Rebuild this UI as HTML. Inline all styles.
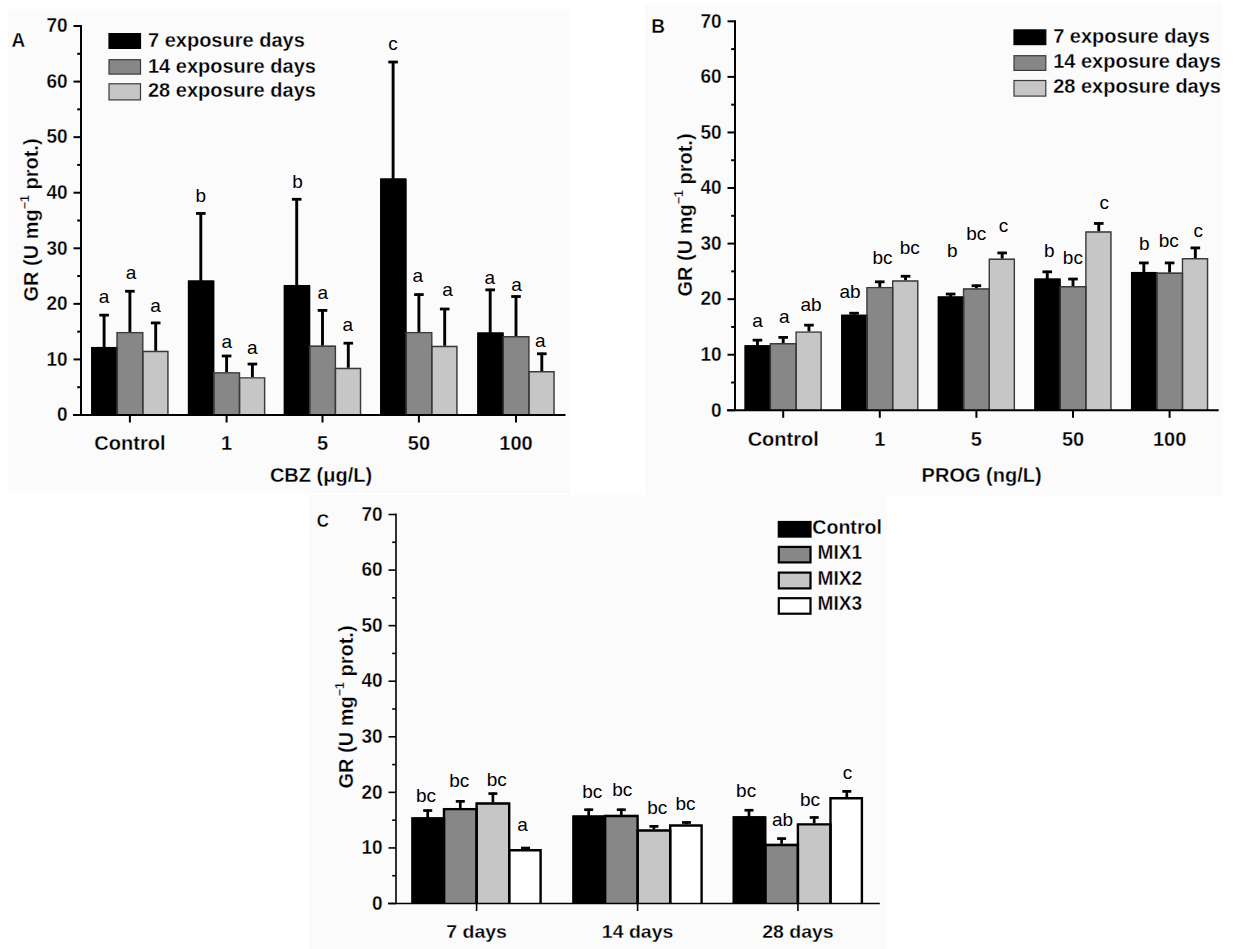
<!DOCTYPE html>
<html><head><meta charset="utf-8"><style>
html,body{margin:0;padding:0;background:#fff;}
body{width:1236px;height:949px;overflow:hidden;font-family:"Liberation Sans", sans-serif;}
svg{display:block;}
</style></head><body>
<svg width="1236" height="949" viewBox="0 0 1236 949" font-family='"Liberation Sans", sans-serif'>
<rect width="1236" height="949" fill="#fff"/>
<rect x="8" y="9" width="562" height="484" fill="#fbfbfc"/>
<rect x="645" y="3" width="577" height="493" fill="#fbfbfc"/>
<rect x="309" y="495" width="578" height="454" fill="#fbfbfc"/>
<line x1="104.10" y1="347.93" x2="104.10" y2="314.14" stroke="#000" stroke-width="2.9"/>
<line x1="99.30" y1="315.14" x2="108.90" y2="315.14" stroke="#000" stroke-width="2.8"/>
<line x1="129.90" y1="332.92" x2="129.90" y2="290.25" stroke="#000" stroke-width="2.9"/>
<line x1="125.10" y1="291.25" x2="134.70" y2="291.25" stroke="#000" stroke-width="2.8"/>
<line x1="155.70" y1="351.82" x2="155.70" y2="321.92" stroke="#000" stroke-width="2.9"/>
<line x1="150.90" y1="322.92" x2="160.50" y2="322.92" stroke="#000" stroke-width="2.8"/>
<line x1="200.80" y1="281.52" x2="200.80" y2="212.45" stroke="#000" stroke-width="2.9"/>
<line x1="196.00" y1="213.45" x2="205.60" y2="213.45" stroke="#000" stroke-width="2.8"/>
<line x1="226.60" y1="373.21" x2="226.60" y2="354.98" stroke="#000" stroke-width="2.9"/>
<line x1="221.80" y1="355.98" x2="231.40" y2="355.98" stroke="#000" stroke-width="2.8"/>
<line x1="252.40" y1="378.21" x2="252.40" y2="363.04" stroke="#000" stroke-width="2.9"/>
<line x1="247.60" y1="364.04" x2="257.20" y2="364.04" stroke="#000" stroke-width="2.8"/>
<line x1="296.70" y1="285.97" x2="296.70" y2="198.28" stroke="#000" stroke-width="2.9"/>
<line x1="291.90" y1="199.28" x2="301.50" y2="199.28" stroke="#000" stroke-width="2.8"/>
<line x1="322.50" y1="346.54" x2="322.50" y2="309.42" stroke="#000" stroke-width="2.9"/>
<line x1="317.70" y1="310.42" x2="327.30" y2="310.42" stroke="#000" stroke-width="2.8"/>
<line x1="348.30" y1="368.77" x2="348.30" y2="342.20" stroke="#000" stroke-width="2.9"/>
<line x1="343.50" y1="343.20" x2="353.10" y2="343.20" stroke="#000" stroke-width="2.8"/>
<line x1="393.10" y1="179.49" x2="393.10" y2="61.02" stroke="#000" stroke-width="2.9"/>
<line x1="388.30" y1="62.02" x2="397.90" y2="62.02" stroke="#000" stroke-width="2.8"/>
<line x1="418.90" y1="332.92" x2="418.90" y2="293.58" stroke="#000" stroke-width="2.9"/>
<line x1="414.10" y1="294.58" x2="423.70" y2="294.58" stroke="#000" stroke-width="2.8"/>
<line x1="444.70" y1="346.82" x2="444.70" y2="308.03" stroke="#000" stroke-width="2.9"/>
<line x1="439.90" y1="309.03" x2="449.50" y2="309.03" stroke="#000" stroke-width="2.8"/>
<line x1="490.20" y1="333.48" x2="490.20" y2="288.86" stroke="#000" stroke-width="2.9"/>
<line x1="485.40" y1="289.86" x2="495.00" y2="289.86" stroke="#000" stroke-width="2.8"/>
<line x1="516.00" y1="337.09" x2="516.00" y2="295.52" stroke="#000" stroke-width="2.9"/>
<line x1="511.20" y1="296.52" x2="520.80" y2="296.52" stroke="#000" stroke-width="2.8"/>
<line x1="541.80" y1="372.10" x2="541.80" y2="352.76" stroke="#000" stroke-width="2.9"/>
<line x1="537.00" y1="353.76" x2="546.60" y2="353.76" stroke="#000" stroke-width="2.8"/>
<rect x="91.20" y="346.93" width="25.80" height="68.07" fill="#000000"/>
<rect x="117.00" y="331.92" width="25.80" height="83.08" fill="#878787"/>
<rect x="142.80" y="350.82" width="25.80" height="64.18" fill="#c6c6c6"/>
<rect x="187.90" y="280.52" width="25.80" height="134.48" fill="#000000"/>
<rect x="213.70" y="372.21" width="25.80" height="42.79" fill="#878787"/>
<rect x="239.50" y="377.21" width="25.80" height="37.79" fill="#c6c6c6"/>
<rect x="283.80" y="284.97" width="25.80" height="130.03" fill="#000000"/>
<rect x="309.60" y="345.54" width="25.80" height="69.46" fill="#878787"/>
<rect x="335.40" y="367.77" width="25.80" height="47.23" fill="#c6c6c6"/>
<rect x="380.20" y="178.49" width="25.80" height="236.51" fill="#000000"/>
<rect x="406.00" y="331.92" width="25.80" height="83.08" fill="#878787"/>
<rect x="431.80" y="345.82" width="25.80" height="69.18" fill="#c6c6c6"/>
<rect x="477.30" y="332.48" width="25.80" height="82.52" fill="#000000"/>
<rect x="503.10" y="336.09" width="25.80" height="78.91" fill="#878787"/>
<rect x="528.90" y="371.10" width="25.80" height="43.90" fill="#c6c6c6"/>
<path d="M91.90,415.00V347.63H117.00V415.00" fill="none" stroke="#000" stroke-width="1.4"/>
<path d="M117.00,415.00V332.62H142.80V415.00" fill="none" stroke="#3a3a3a" stroke-width="1.4"/>
<path d="M142.80,415.00V351.52H167.90V415.00" fill="none" stroke="#3a3a3a" stroke-width="1.4"/>
<path d="M188.60,415.00V281.22H213.70V415.00" fill="none" stroke="#000" stroke-width="1.4"/>
<path d="M213.70,415.00V372.91H239.50V415.00" fill="none" stroke="#3a3a3a" stroke-width="1.4"/>
<path d="M239.50,415.00V377.91H264.60V415.00" fill="none" stroke="#3a3a3a" stroke-width="1.4"/>
<path d="M284.50,415.00V285.67H309.60V415.00" fill="none" stroke="#000" stroke-width="1.4"/>
<path d="M309.60,415.00V346.24H335.40V415.00" fill="none" stroke="#3a3a3a" stroke-width="1.4"/>
<path d="M335.40,415.00V368.47H360.50V415.00" fill="none" stroke="#3a3a3a" stroke-width="1.4"/>
<path d="M380.90,415.00V179.19H406.00V415.00" fill="none" stroke="#000" stroke-width="1.4"/>
<path d="M406.00,415.00V332.62H431.80V415.00" fill="none" stroke="#3a3a3a" stroke-width="1.4"/>
<path d="M431.80,415.00V346.52H456.90V415.00" fill="none" stroke="#3a3a3a" stroke-width="1.4"/>
<path d="M478.00,415.00V333.18H503.10V415.00" fill="none" stroke="#000" stroke-width="1.4"/>
<path d="M503.10,415.00V336.79H528.90V415.00" fill="none" stroke="#3a3a3a" stroke-width="1.4"/>
<path d="M528.90,415.00V371.80H554.00V415.00" fill="none" stroke="#3a3a3a" stroke-width="1.4"/>
<text transform="translate(104.0,302.5) scale(1,1.0)" font-size="19" font-weight="normal" text-anchor="middle" >a</text>
<text transform="translate(131.0,278.5) scale(1,1.0)" font-size="19" font-weight="normal" text-anchor="middle" >a</text>
<text transform="translate(155.5,311.8) scale(1,1.0)" font-size="19" font-weight="normal" text-anchor="middle" >a</text>
<text transform="translate(200.8,202.2) scale(1,1.0)" font-size="19" font-weight="normal" text-anchor="middle" >b</text>
<text transform="translate(226.7,348.3) scale(1,1.0)" font-size="19" font-weight="normal" text-anchor="middle" >a</text>
<text transform="translate(252.3,354.3) scale(1,1.0)" font-size="19" font-weight="normal" text-anchor="middle" >a</text>
<text transform="translate(297.6,187.8) scale(1,1.0)" font-size="19" font-weight="normal" text-anchor="middle" >b</text>
<text transform="translate(322.7,299.3) scale(1,1.0)" font-size="19" font-weight="normal" text-anchor="middle" >a</text>
<text transform="translate(347.7,330.7) scale(1,1.0)" font-size="19" font-weight="normal" text-anchor="middle" >a</text>
<text transform="translate(393.0,49.8) scale(1,1.0)" font-size="19" font-weight="normal" text-anchor="middle" >c</text>
<text transform="translate(417.9,281.6) scale(1,1.0)" font-size="19" font-weight="normal" text-anchor="middle" >a</text>
<text transform="translate(447.6,296.4) scale(1,1.0)" font-size="19" font-weight="normal" text-anchor="middle" >a</text>
<text transform="translate(489.7,283.8) scale(1,1.0)" font-size="19" font-weight="normal" text-anchor="middle" >a</text>
<text transform="translate(516.5,291.0) scale(1,1.0)" font-size="19" font-weight="normal" text-anchor="middle" >a</text>
<text transform="translate(540.2,347.0) scale(1,1.0)" font-size="19" font-weight="normal" text-anchor="middle" >a</text>
<line x1="81.00" y1="25.01" x2="81.00" y2="415.00" stroke="#000" stroke-width="2.0"/>
<line x1="73.00" y1="415.00" x2="565.50" y2="415.00" stroke="#000" stroke-width="2.0"/>
<line x1="73.50" y1="415.00" x2="81.00" y2="415.00" stroke="#000" stroke-width="2.0"/>
<text transform="translate(67.5,421.2) scale(1,1.07)" font-size="19" font-weight="bold" text-anchor="end" stroke="#fbfbfc" stroke-width="0.3" >0</text>
<line x1="77.20" y1="387.21" x2="81.00" y2="387.21" stroke="#000" stroke-width="2.0"/>
<line x1="73.50" y1="359.43" x2="81.00" y2="359.43" stroke="#000" stroke-width="2.0"/>
<text transform="translate(67.5,365.6) scale(1,1.07)" font-size="19" font-weight="bold" text-anchor="end" stroke="#fbfbfc" stroke-width="0.3" >10</text>
<line x1="77.20" y1="331.64" x2="81.00" y2="331.64" stroke="#000" stroke-width="2.0"/>
<line x1="73.50" y1="303.86" x2="81.00" y2="303.86" stroke="#000" stroke-width="2.0"/>
<text transform="translate(67.5,310.1) scale(1,1.07)" font-size="19" font-weight="bold" text-anchor="end" stroke="#fbfbfc" stroke-width="0.3" >20</text>
<line x1="77.20" y1="276.07" x2="81.00" y2="276.07" stroke="#000" stroke-width="2.0"/>
<line x1="73.50" y1="248.29" x2="81.00" y2="248.29" stroke="#000" stroke-width="2.0"/>
<text transform="translate(67.5,254.5) scale(1,1.07)" font-size="19" font-weight="bold" text-anchor="end" stroke="#fbfbfc" stroke-width="0.3" >30</text>
<line x1="77.20" y1="220.50" x2="81.00" y2="220.50" stroke="#000" stroke-width="2.0"/>
<line x1="73.50" y1="192.72" x2="81.00" y2="192.72" stroke="#000" stroke-width="2.0"/>
<text transform="translate(67.5,198.9) scale(1,1.07)" font-size="19" font-weight="bold" text-anchor="end" stroke="#fbfbfc" stroke-width="0.3" >40</text>
<line x1="77.20" y1="164.93" x2="81.00" y2="164.93" stroke="#000" stroke-width="2.0"/>
<line x1="73.50" y1="137.15" x2="81.00" y2="137.15" stroke="#000" stroke-width="2.0"/>
<text transform="translate(67.5,143.3) scale(1,1.07)" font-size="19" font-weight="bold" text-anchor="end" stroke="#fbfbfc" stroke-width="0.3" >50</text>
<line x1="77.20" y1="109.36" x2="81.00" y2="109.36" stroke="#000" stroke-width="2.0"/>
<line x1="73.50" y1="81.58" x2="81.00" y2="81.58" stroke="#000" stroke-width="2.0"/>
<text transform="translate(67.5,87.8) scale(1,1.07)" font-size="19" font-weight="bold" text-anchor="end" stroke="#fbfbfc" stroke-width="0.3" >60</text>
<line x1="77.20" y1="53.79" x2="81.00" y2="53.79" stroke="#000" stroke-width="2.0"/>
<line x1="73.50" y1="26.01" x2="81.00" y2="26.01" stroke="#000" stroke-width="2.0"/>
<text transform="translate(67.5,32.2) scale(1,1.07)" font-size="19" font-weight="bold" text-anchor="end" stroke="#fbfbfc" stroke-width="0.3" >70</text>
<line x1="129.90" y1="415.00" x2="129.90" y2="422.50" stroke="#000" stroke-width="2.0"/>
<line x1="226.60" y1="415.00" x2="226.60" y2="422.50" stroke="#000" stroke-width="2.0"/>
<line x1="322.50" y1="415.00" x2="322.50" y2="422.50" stroke="#000" stroke-width="2.0"/>
<line x1="418.90" y1="415.00" x2="418.90" y2="422.50" stroke="#000" stroke-width="2.0"/>
<line x1="516.00" y1="415.00" x2="516.00" y2="422.50" stroke="#000" stroke-width="2.0"/>
<text transform="translate(129.9,450.0) scale(1,1.0)" font-size="20" font-weight="bold" text-anchor="middle" stroke="#fbfbfc" stroke-width="0.3" >Control</text>
<text transform="translate(226.6,450.0) scale(1,1.0)" font-size="20" font-weight="bold" text-anchor="middle" stroke="#fbfbfc" stroke-width="0.3" >1</text>
<text transform="translate(322.5,450.0) scale(1,1.0)" font-size="20" font-weight="bold" text-anchor="middle" stroke="#fbfbfc" stroke-width="0.3" >5</text>
<text transform="translate(418.9,450.0) scale(1,1.0)" font-size="20" font-weight="bold" text-anchor="middle" stroke="#fbfbfc" stroke-width="0.3" >50</text>
<text transform="translate(516.0,450.0) scale(1,1.0)" font-size="20" font-weight="bold" text-anchor="middle" stroke="#fbfbfc" stroke-width="0.3" >100</text>
<text transform="translate(321.0,482.0) scale(1,1.0)" font-size="20" font-weight="bold" text-anchor="middle" stroke="#fbfbfc" stroke-width="0.3" >CBZ (&#956;g/L)</text>
<text transform="translate(37.5,220.0) rotate(-90)" font-size="20" font-weight="bold" stroke="#fbfbfc" stroke-width="0.3" text-anchor="middle">GR (U mg<tspan dy="-8.5" font-size="12.5">&#8722;1</tspan><tspan dy="8.5"> prot.)</tspan></text>
<line x1="757.45" y1="346.28" x2="757.45" y2="339.17" stroke="#000" stroke-width="2.9"/>
<line x1="752.65" y1="340.17" x2="762.25" y2="340.17" stroke="#000" stroke-width="2.8"/>
<line x1="783.20" y1="344.06" x2="783.20" y2="336.39" stroke="#000" stroke-width="2.9"/>
<line x1="778.40" y1="337.39" x2="788.00" y2="337.39" stroke="#000" stroke-width="2.8"/>
<line x1="808.95" y1="332.39" x2="808.95" y2="324.17" stroke="#000" stroke-width="2.9"/>
<line x1="804.15" y1="325.17" x2="813.75" y2="325.17" stroke="#000" stroke-width="2.8"/>
<line x1="854.05" y1="315.72" x2="854.05" y2="312.22" stroke="#000" stroke-width="2.9"/>
<line x1="849.25" y1="313.22" x2="858.85" y2="313.22" stroke="#000" stroke-width="2.8"/>
<line x1="879.80" y1="287.93" x2="879.80" y2="280.82" stroke="#000" stroke-width="2.9"/>
<line x1="875.00" y1="281.82" x2="884.60" y2="281.82" stroke="#000" stroke-width="2.8"/>
<line x1="905.55" y1="281.27" x2="905.55" y2="275.26" stroke="#000" stroke-width="2.9"/>
<line x1="900.75" y1="276.26" x2="910.35" y2="276.26" stroke="#000" stroke-width="2.8"/>
<line x1="950.65" y1="297.38" x2="950.65" y2="293.05" stroke="#000" stroke-width="2.9"/>
<line x1="945.85" y1="294.05" x2="955.45" y2="294.05" stroke="#000" stroke-width="2.8"/>
<line x1="976.40" y1="289.32" x2="976.40" y2="284.71" stroke="#000" stroke-width="2.9"/>
<line x1="971.60" y1="285.71" x2="981.20" y2="285.71" stroke="#000" stroke-width="2.8"/>
<line x1="1002.15" y1="259.59" x2="1002.15" y2="251.93" stroke="#000" stroke-width="2.9"/>
<line x1="997.35" y1="252.93" x2="1006.95" y2="252.93" stroke="#000" stroke-width="2.8"/>
<line x1="1047.25" y1="279.60" x2="1047.25" y2="270.82" stroke="#000" stroke-width="2.9"/>
<line x1="1042.45" y1="271.82" x2="1052.05" y2="271.82" stroke="#000" stroke-width="2.8"/>
<line x1="1073.00" y1="287.10" x2="1073.00" y2="278.04" stroke="#000" stroke-width="2.9"/>
<line x1="1068.20" y1="279.04" x2="1077.80" y2="279.04" stroke="#000" stroke-width="2.8"/>
<line x1="1098.75" y1="232.36" x2="1098.75" y2="222.47" stroke="#000" stroke-width="2.9"/>
<line x1="1093.95" y1="223.47" x2="1103.55" y2="223.47" stroke="#000" stroke-width="2.8"/>
<line x1="1143.85" y1="272.93" x2="1143.85" y2="261.93" stroke="#000" stroke-width="2.9"/>
<line x1="1139.05" y1="262.93" x2="1148.65" y2="262.93" stroke="#000" stroke-width="2.8"/>
<line x1="1169.60" y1="273.49" x2="1169.60" y2="261.93" stroke="#000" stroke-width="2.9"/>
<line x1="1164.80" y1="262.93" x2="1174.40" y2="262.93" stroke="#000" stroke-width="2.8"/>
<line x1="1195.35" y1="259.04" x2="1195.35" y2="246.92" stroke="#000" stroke-width="2.9"/>
<line x1="1190.55" y1="247.92" x2="1200.15" y2="247.92" stroke="#000" stroke-width="2.8"/>
<rect x="744.58" y="345.28" width="25.75" height="65.02" fill="#000000"/>
<rect x="770.33" y="343.06" width="25.75" height="67.24" fill="#878787"/>
<rect x="796.08" y="331.39" width="25.75" height="78.91" fill="#c6c6c6"/>
<rect x="841.18" y="314.72" width="25.75" height="95.58" fill="#000000"/>
<rect x="866.93" y="286.93" width="25.75" height="123.37" fill="#878787"/>
<rect x="892.68" y="280.27" width="25.75" height="130.03" fill="#c6c6c6"/>
<rect x="937.78" y="296.38" width="25.75" height="113.92" fill="#000000"/>
<rect x="963.53" y="288.32" width="25.75" height="121.98" fill="#878787"/>
<rect x="989.28" y="258.59" width="25.75" height="151.71" fill="#c6c6c6"/>
<rect x="1034.38" y="278.60" width="25.75" height="131.70" fill="#000000"/>
<rect x="1060.12" y="286.10" width="25.75" height="124.20" fill="#878787"/>
<rect x="1085.88" y="231.36" width="25.75" height="178.94" fill="#c6c6c6"/>
<rect x="1130.97" y="271.93" width="25.75" height="138.37" fill="#000000"/>
<rect x="1156.72" y="272.49" width="25.75" height="137.81" fill="#878787"/>
<rect x="1182.47" y="258.04" width="25.75" height="152.26" fill="#c6c6c6"/>
<path d="M745.28,410.30V345.98H770.33V410.30" fill="none" stroke="#000" stroke-width="1.4"/>
<path d="M770.33,410.30V343.76H796.08V410.30" fill="none" stroke="#3a3a3a" stroke-width="1.4"/>
<path d="M796.08,410.30V332.09H821.12V410.30" fill="none" stroke="#3a3a3a" stroke-width="1.4"/>
<path d="M841.88,410.30V315.42H866.93V410.30" fill="none" stroke="#000" stroke-width="1.4"/>
<path d="M866.93,410.30V287.63H892.68V410.30" fill="none" stroke="#3a3a3a" stroke-width="1.4"/>
<path d="M892.68,410.30V280.97H917.73V410.30" fill="none" stroke="#3a3a3a" stroke-width="1.4"/>
<path d="M938.48,410.30V297.08H963.53V410.30" fill="none" stroke="#000" stroke-width="1.4"/>
<path d="M963.53,410.30V289.02H989.28V410.30" fill="none" stroke="#3a3a3a" stroke-width="1.4"/>
<path d="M989.28,410.30V259.29H1014.33V410.30" fill="none" stroke="#3a3a3a" stroke-width="1.4"/>
<path d="M1035.08,410.30V279.30H1060.12V410.30" fill="none" stroke="#000" stroke-width="1.4"/>
<path d="M1060.12,410.30V286.80H1085.88V410.30" fill="none" stroke="#3a3a3a" stroke-width="1.4"/>
<path d="M1085.88,410.30V232.06H1110.92V410.30" fill="none" stroke="#3a3a3a" stroke-width="1.4"/>
<path d="M1131.67,410.30V272.63H1156.72V410.30" fill="none" stroke="#000" stroke-width="1.4"/>
<path d="M1156.72,410.30V273.19H1182.47V410.30" fill="none" stroke="#3a3a3a" stroke-width="1.4"/>
<path d="M1182.47,410.30V258.74H1207.52V410.30" fill="none" stroke="#3a3a3a" stroke-width="1.4"/>
<text transform="translate(757.5,327.2) scale(1,1.0)" font-size="19" font-weight="normal" text-anchor="middle" >a</text>
<text transform="translate(784.3,322.9) scale(1,1.0)" font-size="19" font-weight="normal" text-anchor="middle" >a</text>
<text transform="translate(811.1,310.5) scale(1,1.0)" font-size="19" font-weight="normal" text-anchor="middle" >ab</text>
<text transform="translate(850.1,298.3) scale(1,1.0)" font-size="19" font-weight="normal" text-anchor="middle" >ab</text>
<text transform="translate(882.5,264.0) scale(1,1.0)" font-size="19" font-weight="normal" text-anchor="middle" >bc</text>
<text transform="translate(909.7,254.3) scale(1,1.0)" font-size="19" font-weight="normal" text-anchor="middle" >bc</text>
<text transform="translate(952.3,256.5) scale(1,1.0)" font-size="19" font-weight="normal" text-anchor="middle" >b</text>
<text transform="translate(976.2,240.0) scale(1,1.0)" font-size="19" font-weight="normal" text-anchor="middle" >bc</text>
<text transform="translate(1003.6,231.8) scale(1,1.0)" font-size="19" font-weight="normal" text-anchor="middle" >c</text>
<text transform="translate(1049.3,256.5) scale(1,1.0)" font-size="19" font-weight="normal" text-anchor="middle" >b</text>
<text transform="translate(1072.9,263.6) scale(1,1.0)" font-size="19" font-weight="normal" text-anchor="middle" >bc</text>
<text transform="translate(1104.2,209.3) scale(1,1.0)" font-size="19" font-weight="normal" text-anchor="middle" >c</text>
<text transform="translate(1144.2,250.4) scale(1,1.0)" font-size="19" font-weight="normal" text-anchor="middle" >b</text>
<text transform="translate(1168.8,246.6) scale(1,1.0)" font-size="19" font-weight="normal" text-anchor="middle" >bc</text>
<text transform="translate(1198.2,237.3) scale(1,1.0)" font-size="19" font-weight="normal" text-anchor="middle" >c</text>
<line x1="735.00" y1="20.31" x2="735.00" y2="410.30" stroke="#000" stroke-width="2.0"/>
<line x1="727.00" y1="410.30" x2="1218.70" y2="410.30" stroke="#000" stroke-width="2.0"/>
<line x1="727.50" y1="410.30" x2="735.00" y2="410.30" stroke="#000" stroke-width="2.0"/>
<text transform="translate(721.5,416.5) scale(1,1.07)" font-size="19" font-weight="bold" text-anchor="end" stroke="#fbfbfc" stroke-width="0.3" >0</text>
<line x1="731.20" y1="382.51" x2="735.00" y2="382.51" stroke="#000" stroke-width="2.0"/>
<line x1="727.50" y1="354.73" x2="735.00" y2="354.73" stroke="#000" stroke-width="2.0"/>
<text transform="translate(721.5,360.9) scale(1,1.07)" font-size="19" font-weight="bold" text-anchor="end" stroke="#fbfbfc" stroke-width="0.3" >10</text>
<line x1="731.20" y1="326.94" x2="735.00" y2="326.94" stroke="#000" stroke-width="2.0"/>
<line x1="727.50" y1="299.16" x2="735.00" y2="299.16" stroke="#000" stroke-width="2.0"/>
<text transform="translate(721.5,305.4) scale(1,1.07)" font-size="19" font-weight="bold" text-anchor="end" stroke="#fbfbfc" stroke-width="0.3" >20</text>
<line x1="731.20" y1="271.38" x2="735.00" y2="271.38" stroke="#000" stroke-width="2.0"/>
<line x1="727.50" y1="243.59" x2="735.00" y2="243.59" stroke="#000" stroke-width="2.0"/>
<text transform="translate(721.5,249.8) scale(1,1.07)" font-size="19" font-weight="bold" text-anchor="end" stroke="#fbfbfc" stroke-width="0.3" >30</text>
<line x1="731.20" y1="215.81" x2="735.00" y2="215.81" stroke="#000" stroke-width="2.0"/>
<line x1="727.50" y1="188.02" x2="735.00" y2="188.02" stroke="#000" stroke-width="2.0"/>
<text transform="translate(721.5,194.2) scale(1,1.07)" font-size="19" font-weight="bold" text-anchor="end" stroke="#fbfbfc" stroke-width="0.3" >40</text>
<line x1="731.20" y1="160.23" x2="735.00" y2="160.23" stroke="#000" stroke-width="2.0"/>
<line x1="727.50" y1="132.45" x2="735.00" y2="132.45" stroke="#000" stroke-width="2.0"/>
<text transform="translate(721.5,138.6) scale(1,1.07)" font-size="19" font-weight="bold" text-anchor="end" stroke="#fbfbfc" stroke-width="0.3" >50</text>
<line x1="731.20" y1="104.66" x2="735.00" y2="104.66" stroke="#000" stroke-width="2.0"/>
<line x1="727.50" y1="76.88" x2="735.00" y2="76.88" stroke="#000" stroke-width="2.0"/>
<text transform="translate(721.5,83.1) scale(1,1.07)" font-size="19" font-weight="bold" text-anchor="end" stroke="#fbfbfc" stroke-width="0.3" >60</text>
<line x1="731.20" y1="49.09" x2="735.00" y2="49.09" stroke="#000" stroke-width="2.0"/>
<line x1="727.50" y1="21.31" x2="735.00" y2="21.31" stroke="#000" stroke-width="2.0"/>
<text transform="translate(721.5,27.5) scale(1,1.07)" font-size="19" font-weight="bold" text-anchor="end" stroke="#fbfbfc" stroke-width="0.3" >70</text>
<line x1="783.20" y1="410.30" x2="783.20" y2="417.80" stroke="#000" stroke-width="2.0"/>
<line x1="879.80" y1="410.30" x2="879.80" y2="417.80" stroke="#000" stroke-width="2.0"/>
<line x1="976.40" y1="410.30" x2="976.40" y2="417.80" stroke="#000" stroke-width="2.0"/>
<line x1="1073.00" y1="410.30" x2="1073.00" y2="417.80" stroke="#000" stroke-width="2.0"/>
<line x1="1169.60" y1="410.30" x2="1169.60" y2="417.80" stroke="#000" stroke-width="2.0"/>
<text transform="translate(783.2,446.0) scale(1,1.0)" font-size="20" font-weight="bold" text-anchor="middle" stroke="#fbfbfc" stroke-width="0.3" >Control</text>
<text transform="translate(879.8,446.0) scale(1,1.0)" font-size="20" font-weight="bold" text-anchor="middle" stroke="#fbfbfc" stroke-width="0.3" >1</text>
<text transform="translate(976.4,446.0) scale(1,1.0)" font-size="20" font-weight="bold" text-anchor="middle" stroke="#fbfbfc" stroke-width="0.3" >5</text>
<text transform="translate(1073.0,446.0) scale(1,1.0)" font-size="20" font-weight="bold" text-anchor="middle" stroke="#fbfbfc" stroke-width="0.3" >50</text>
<text transform="translate(1169.6,446.0) scale(1,1.0)" font-size="20" font-weight="bold" text-anchor="middle" stroke="#fbfbfc" stroke-width="0.3" >100</text>
<text transform="translate(981.6,482.0) scale(1,1.0)" font-size="20" font-weight="bold" text-anchor="middle" stroke="#fbfbfc" stroke-width="0.3" >PROG (ng/L)</text>
<text transform="translate(691.5,215.0) rotate(-90)" font-size="20" font-weight="bold" stroke="#fbfbfc" stroke-width="0.3" text-anchor="middle">GR (U mg<tspan dy="-8.5" font-size="12.5">&#8722;1</tspan><tspan dy="8.5"> prot.)</tspan></text>
<line x1="427.70" y1="818.37" x2="427.70" y2="809.59" stroke="#000" stroke-width="2.7"/>
<line x1="423.20" y1="810.54" x2="432.20" y2="810.54" stroke="#000" stroke-width="2.7"/>
<line x1="460.30" y1="808.92" x2="460.30" y2="800.42" stroke="#000" stroke-width="2.7"/>
<line x1="455.80" y1="801.37" x2="464.80" y2="801.37" stroke="#000" stroke-width="2.7"/>
<line x1="492.90" y1="803.36" x2="492.90" y2="792.64" stroke="#000" stroke-width="2.7"/>
<line x1="488.40" y1="793.59" x2="497.40" y2="793.59" stroke="#000" stroke-width="2.7"/>
<line x1="525.50" y1="850.04" x2="525.50" y2="847.10" stroke="#000" stroke-width="2.7"/>
<line x1="521.00" y1="848.05" x2="530.00" y2="848.05" stroke="#000" stroke-width="2.7"/>
<line x1="588.70" y1="816.42" x2="588.70" y2="808.75" stroke="#000" stroke-width="2.7"/>
<line x1="584.20" y1="809.70" x2="593.20" y2="809.70" stroke="#000" stroke-width="2.7"/>
<line x1="621.30" y1="815.87" x2="621.30" y2="808.75" stroke="#000" stroke-width="2.7"/>
<line x1="616.80" y1="809.70" x2="625.80" y2="809.70" stroke="#000" stroke-width="2.7"/>
<line x1="653.90" y1="830.31" x2="653.90" y2="825.42" stroke="#000" stroke-width="2.7"/>
<line x1="649.40" y1="826.37" x2="658.40" y2="826.37" stroke="#000" stroke-width="2.7"/>
<line x1="686.50" y1="825.31" x2="686.50" y2="821.53" stroke="#000" stroke-width="2.7"/>
<line x1="682.00" y1="822.48" x2="691.00" y2="822.48" stroke="#000" stroke-width="2.7"/>
<line x1="749.00" y1="817.26" x2="749.00" y2="809.31" stroke="#000" stroke-width="2.7"/>
<line x1="744.50" y1="810.26" x2="753.50" y2="810.26" stroke="#000" stroke-width="2.7"/>
<line x1="781.60" y1="844.76" x2="781.60" y2="837.65" stroke="#000" stroke-width="2.7"/>
<line x1="777.10" y1="838.60" x2="786.10" y2="838.60" stroke="#000" stroke-width="2.7"/>
<line x1="814.20" y1="824.20" x2="814.20" y2="816.53" stroke="#000" stroke-width="2.7"/>
<line x1="809.70" y1="817.48" x2="818.70" y2="817.48" stroke="#000" stroke-width="2.7"/>
<line x1="846.80" y1="798.08" x2="846.80" y2="790.42" stroke="#000" stroke-width="2.7"/>
<line x1="842.30" y1="791.37" x2="851.30" y2="791.37" stroke="#000" stroke-width="2.7"/>
<rect x="411.40" y="817.37" width="32.60" height="86.13" fill="#000000"/>
<rect x="444.00" y="807.92" width="32.60" height="95.58" fill="#878787"/>
<rect x="476.60" y="802.36" width="32.60" height="101.14" fill="#c6c6c6"/>
<rect x="509.20" y="849.04" width="32.60" height="54.46" fill="#ffffff"/>
<rect x="572.40" y="815.42" width="32.60" height="88.08" fill="#000000"/>
<rect x="605.00" y="814.87" width="32.60" height="88.63" fill="#878787"/>
<rect x="637.60" y="829.31" width="32.60" height="74.19" fill="#c6c6c6"/>
<rect x="670.20" y="824.31" width="32.60" height="79.19" fill="#ffffff"/>
<rect x="732.70" y="816.26" width="32.60" height="87.24" fill="#000000"/>
<rect x="765.30" y="843.76" width="32.60" height="59.74" fill="#878787"/>
<rect x="797.90" y="823.20" width="32.60" height="80.30" fill="#c6c6c6"/>
<rect x="830.50" y="797.08" width="32.60" height="106.42" fill="#ffffff"/>
<path d="M412.60,903.50V818.57H444.00V903.50" fill="none" stroke="#000" stroke-width="2.4"/>
<path d="M444.00,903.50V809.12H476.60V903.50" fill="none" stroke="#000" stroke-width="2.4"/>
<path d="M476.60,903.50V803.56H509.20V903.50" fill="none" stroke="#000" stroke-width="2.4"/>
<path d="M509.20,903.50V850.24H540.60V903.50" fill="none" stroke="#000" stroke-width="2.4"/>
<path d="M573.60,903.50V816.62H605.00V903.50" fill="none" stroke="#000" stroke-width="2.4"/>
<path d="M605.00,903.50V816.07H637.60V903.50" fill="none" stroke="#000" stroke-width="2.4"/>
<path d="M637.60,903.50V830.51H670.20V903.50" fill="none" stroke="#000" stroke-width="2.4"/>
<path d="M670.20,903.50V825.51H701.60V903.50" fill="none" stroke="#000" stroke-width="2.4"/>
<path d="M733.90,903.50V817.46H765.30V903.50" fill="none" stroke="#000" stroke-width="2.4"/>
<path d="M765.30,903.50V844.96H797.90V903.50" fill="none" stroke="#000" stroke-width="2.4"/>
<path d="M797.90,903.50V824.40H830.50V903.50" fill="none" stroke="#000" stroke-width="2.4"/>
<path d="M830.50,903.50V798.28H861.90V903.50" fill="none" stroke="#000" stroke-width="2.4"/>
<text transform="translate(426.0,802.0) scale(1,1.0)" font-size="19" font-weight="normal" text-anchor="middle" >bc</text>
<text transform="translate(459.2,787.2) scale(1,1.0)" font-size="19" font-weight="normal" text-anchor="middle" >bc</text>
<text transform="translate(496.7,785.9) scale(1,1.0)" font-size="19" font-weight="normal" text-anchor="middle" >bc</text>
<text transform="translate(522.6,830.7) scale(1,1.0)" font-size="19" font-weight="normal" text-anchor="middle" >a</text>
<text transform="translate(592.3,797.5) scale(1,1.0)" font-size="19" font-weight="normal" text-anchor="middle" >bc</text>
<text transform="translate(622.3,796.2) scale(1,1.0)" font-size="19" font-weight="normal" text-anchor="middle" >bc</text>
<text transform="translate(657.3,814.4) scale(1,1.0)" font-size="19" font-weight="normal" text-anchor="middle" >bc</text>
<text transform="translate(685.5,810.0) scale(1,1.0)" font-size="19" font-weight="normal" text-anchor="middle" >bc</text>
<text transform="translate(746.1,797.2) scale(1,1.0)" font-size="19" font-weight="normal" text-anchor="middle" >bc</text>
<text transform="translate(782.5,825.9) scale(1,1.0)" font-size="19" font-weight="normal" text-anchor="middle" >ab</text>
<text transform="translate(810.0,806.0) scale(1,1.0)" font-size="19" font-weight="normal" text-anchor="middle" >bc</text>
<text transform="translate(847.4,778.5) scale(1,1.0)" font-size="19" font-weight="normal" text-anchor="middle" >c</text>
<line x1="396.00" y1="513.51" x2="396.00" y2="903.50" stroke="#000" stroke-width="1.6"/>
<line x1="388.00" y1="903.50" x2="879.80" y2="903.50" stroke="#000" stroke-width="1.6"/>
<line x1="388.50" y1="903.50" x2="396.00" y2="903.50" stroke="#000" stroke-width="1.6"/>
<text transform="translate(382.5,909.7) scale(1,1.07)" font-size="19" font-weight="bold" text-anchor="end" stroke="#fbfbfc" stroke-width="0.3" >0</text>
<line x1="392.20" y1="875.72" x2="396.00" y2="875.72" stroke="#000" stroke-width="1.6"/>
<line x1="388.50" y1="847.93" x2="396.00" y2="847.93" stroke="#000" stroke-width="1.6"/>
<text transform="translate(382.5,854.1) scale(1,1.07)" font-size="19" font-weight="bold" text-anchor="end" stroke="#fbfbfc" stroke-width="0.3" >10</text>
<line x1="392.20" y1="820.14" x2="396.00" y2="820.14" stroke="#000" stroke-width="1.6"/>
<line x1="388.50" y1="792.36" x2="396.00" y2="792.36" stroke="#000" stroke-width="1.6"/>
<text transform="translate(382.5,798.6) scale(1,1.07)" font-size="19" font-weight="bold" text-anchor="end" stroke="#fbfbfc" stroke-width="0.3" >20</text>
<line x1="392.20" y1="764.58" x2="396.00" y2="764.58" stroke="#000" stroke-width="1.6"/>
<line x1="388.50" y1="736.79" x2="396.00" y2="736.79" stroke="#000" stroke-width="1.6"/>
<text transform="translate(382.5,743.0) scale(1,1.07)" font-size="19" font-weight="bold" text-anchor="end" stroke="#fbfbfc" stroke-width="0.3" >30</text>
<line x1="392.20" y1="709.00" x2="396.00" y2="709.00" stroke="#000" stroke-width="1.6"/>
<line x1="388.50" y1="681.22" x2="396.00" y2="681.22" stroke="#000" stroke-width="1.6"/>
<text transform="translate(382.5,687.4) scale(1,1.07)" font-size="19" font-weight="bold" text-anchor="end" stroke="#fbfbfc" stroke-width="0.3" >40</text>
<line x1="392.20" y1="653.43" x2="396.00" y2="653.43" stroke="#000" stroke-width="1.6"/>
<line x1="388.50" y1="625.65" x2="396.00" y2="625.65" stroke="#000" stroke-width="1.6"/>
<text transform="translate(382.5,631.9) scale(1,1.07)" font-size="19" font-weight="bold" text-anchor="end" stroke="#fbfbfc" stroke-width="0.3" >50</text>
<line x1="392.20" y1="597.87" x2="396.00" y2="597.87" stroke="#000" stroke-width="1.6"/>
<line x1="388.50" y1="570.08" x2="396.00" y2="570.08" stroke="#000" stroke-width="1.6"/>
<text transform="translate(382.5,576.3) scale(1,1.07)" font-size="19" font-weight="bold" text-anchor="end" stroke="#fbfbfc" stroke-width="0.3" >60</text>
<line x1="392.20" y1="542.29" x2="396.00" y2="542.29" stroke="#000" stroke-width="1.6"/>
<line x1="388.50" y1="514.51" x2="396.00" y2="514.51" stroke="#000" stroke-width="1.6"/>
<text transform="translate(382.5,520.7) scale(1,1.07)" font-size="19" font-weight="bold" text-anchor="end" stroke="#fbfbfc" stroke-width="0.3" >70</text>
<line x1="476.60" y1="903.50" x2="476.60" y2="911.00" stroke="#000" stroke-width="1.6"/>
<line x1="637.60" y1="903.50" x2="637.60" y2="911.00" stroke="#000" stroke-width="1.6"/>
<line x1="797.90" y1="903.50" x2="797.90" y2="911.00" stroke="#000" stroke-width="1.6"/>
<text transform="translate(476.6,937.8) scale(1,0.96)" font-size="19.5" font-weight="bold" text-anchor="middle" stroke="#fbfbfc" stroke-width="0.3" >7 days</text>
<text transform="translate(637.6,937.8) scale(1,0.96)" font-size="19.5" font-weight="bold" text-anchor="middle" stroke="#fbfbfc" stroke-width="0.3" >14 days</text>
<text transform="translate(797.9,937.8) scale(1,0.96)" font-size="19.5" font-weight="bold" text-anchor="middle" stroke="#fbfbfc" stroke-width="0.3" >28 days</text>
<text transform="translate(352.5,707.0) rotate(-90)" font-size="20" font-weight="bold" stroke="#fbfbfc" stroke-width="0.3" text-anchor="middle">GR (U mg<tspan dy="-8.5" font-size="12.5">&#8722;1</tspan><tspan dy="8.5"> prot.)</tspan></text>
<rect x="109.0" y="33.6" width="31.5" height="14.8" fill="#000000" stroke="#000" stroke-width="1.2"/>
<rect x="109.0" y="59.7" width="31.5" height="14.4" fill="#878787" stroke="#3a3a3a" stroke-width="1.2"/>
<rect x="109.0" y="83.8" width="31.5" height="16.1" fill="#c6c6c6" stroke="#3a3a3a" stroke-width="1.2"/>
<text transform="translate(148.0,46.5) scale(1,1.0)" font-size="20" font-weight="bold" text-anchor="start" stroke="#fbfbfc" stroke-width="0.3" >7 exposure days</text>
<text transform="translate(148.0,72.5) scale(1,1.0)" font-size="20" font-weight="bold" text-anchor="start" stroke="#fbfbfc" stroke-width="0.3" >14 exposure days</text>
<text transform="translate(148.0,97.0) scale(1,1.0)" font-size="20" font-weight="bold" text-anchor="start" stroke="#fbfbfc" stroke-width="0.3" >28 exposure days</text>
<rect x="1014.0" y="29.9" width="31.8" height="14.7" fill="#000000" stroke="#000" stroke-width="1.2"/>
<rect x="1014.0" y="55.7" width="31.8" height="14.7" fill="#878787" stroke="#3a3a3a" stroke-width="1.2"/>
<rect x="1014.0" y="80.5" width="31.8" height="15.6" fill="#c6c6c6" stroke="#3a3a3a" stroke-width="1.2"/>
<text transform="translate(1053.2,42.5) scale(1,1.04)" font-size="20" font-weight="bold" text-anchor="start" stroke="#fbfbfc" stroke-width="0.3" >7 exposure days</text>
<text transform="translate(1053.2,68.3) scale(1,1.04)" font-size="20" font-weight="bold" text-anchor="start" stroke="#fbfbfc" stroke-width="0.3" >14 exposure days</text>
<text transform="translate(1053.2,93.2) scale(1,1.04)" font-size="20" font-weight="bold" text-anchor="start" stroke="#fbfbfc" stroke-width="0.3" >28 exposure days</text>
<rect x="778.8" y="522.0" width="31.7" height="14.6" fill="#000000" stroke="#000" stroke-width="2.2"/>
<rect x="778.8" y="546.9" width="31.7" height="15.5" fill="#878787" stroke="#000" stroke-width="2.2"/>
<rect x="778.8" y="572.6" width="31.7" height="15.8" fill="#c6c6c6" stroke="#000" stroke-width="2.2"/>
<rect x="778.8" y="598.2" width="31.7" height="15.5" fill="#ffffff" stroke="#000" stroke-width="2.2"/>
<text transform="translate(812.3,533.8) scale(1,1.02)" font-size="19.6" font-weight="bold" text-anchor="start" stroke="#fbfbfc" stroke-width="0.3" >Control</text>
<text transform="translate(817.5,559.4) scale(1,1.05)" font-size="19.1" font-weight="bold" text-anchor="start" stroke="#fbfbfc" stroke-width="0.3" >MIX1</text>
<text transform="translate(817.5,584.7) scale(1,1.05)" font-size="19.1" font-weight="bold" text-anchor="start" stroke="#fbfbfc" stroke-width="0.3" >MIX2</text>
<text transform="translate(817.5,609.7) scale(1,1.05)" font-size="19.1" font-weight="bold" text-anchor="start" stroke="#fbfbfc" stroke-width="0.3" >MIX3</text>
<text transform="translate(11.4,47.4) scale(1,1.07)" font-size="19" font-weight="bold" text-anchor="start" stroke="#fbfbfc" stroke-width="0.3" >A</text>
<text transform="translate(651.3,33.0) scale(1,1.07)" font-size="19" font-weight="bold" text-anchor="start" stroke="#fbfbfc" stroke-width="0.3" >B</text>
<text transform="translate(316.8,526.8) scale(1,1.07)" font-size="17" font-weight="bold" text-anchor="start" stroke="#fbfbfc" stroke-width="0.3" >C</text>
</svg>
</body></html>
